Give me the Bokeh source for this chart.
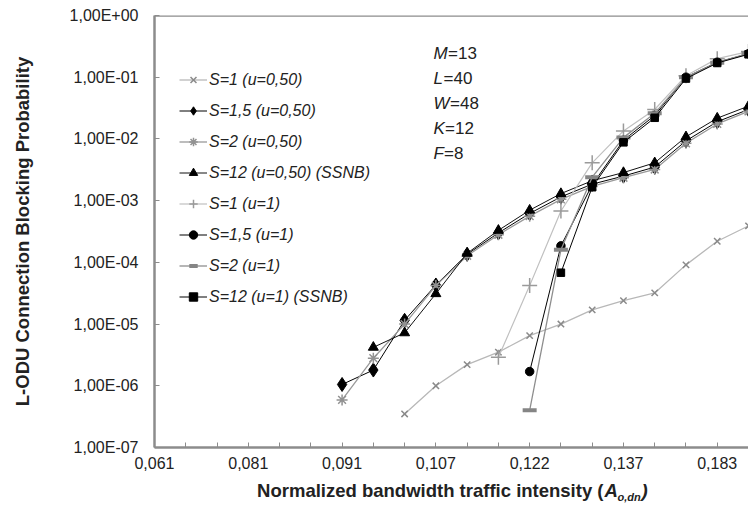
from bokeh.plotting import figure
from bokeh.layouts import column
from bokeh.models import (Range1d, FixedTicker, CustomJSTickFormatter, Legend,
                          LegendItem, Label, Span, ColumnDataSource)
from bokeh.embed import file_html
from bokeh.resources import INLINE

nan = float("nan")

# ---------------- data ----------------
categories = list(range(20))          # Excel category positions
x_tick_labels = ["0,061", "0,081", "0,091", "0,107", "0,122", "0,137", "0,183"]
x_label_step = 3
y_ticks = [1e-7, 1e-6, 1e-5, 1e-4, 1e-3, 1e-2, 1e-1, 1e0]

s1_u050 = [nan, nan, nan, nan, nan, nan, nan, nan,
           3.5e-7, 1.0e-6, 2.2e-6, 3.5e-6, 6.5e-6, 1.0e-5, 1.7e-5, 2.4e-5,
           3.2e-5, 9.1e-5, 2.2e-4, 3.9e-4]
s15_u050 = [nan, nan, nan, nan, nan, nan,
            1.05e-6, 1.8e-6, 1.15e-5, 4.3e-5, 1.35e-4, 3.0e-4, 6.2e-4, 1.15e-3,
            1.85e-3, 2.5e-3, 3.5e-3, 9.3e-3, 1.9e-2, 3.0e-2]
s2_u050 = [nan, nan, nan, nan, nan, nan,
           5.9e-7, 2.8e-6, 1.0e-5, 4.2e-5, 1.28e-4, 2.8e-4, 5.6e-4, 1.05e-3,
           1.7e-3, 2.35e-3, 3.2e-3, 8.5e-3, 1.75e-2, 2.8e-2]
s12_u050 = [nan, nan, nan, nan, nan, nan, nan,
            4.2e-6, 7.2e-6, 3.1e-5, 1.4e-4, 3.3e-4, 7.0e-4, 1.3e-3,
            2.1e-3, 2.85e-3, 4.1e-3, 1.08e-2, 2.17e-2, 3.4e-2]
s1_u1 = [nan, nan, nan, nan, nan, nan, nan, nan, nan, nan, nan,
         2.9e-6, 4.2e-5, 6.8e-4, 4.1e-3, 1.35e-2, 3.0e-2, 1.06e-1, 2.0e-1, 2.6e-1]
s15_u1 = [nan, nan, nan, nan, nan, nan, nan, nan, nan, nan, nan, nan,
          1.7e-6, 1.85e-4, 1.8e-3, 9.5e-3, 2.4e-2, 1.0e-1, 1.75e-1, 2.4e-1]
s2_u1 = [nan, nan, nan, nan, nan, nan, nan, nan, nan, nan, nan, nan,
         4.0e-7, 1.6e-4, 2.4e-3, 1.05e-2, 2.6e-2, 1.0e-1, 1.72e-1, 2.45e-1]
s12_u1 = [nan, nan, nan, nan, nan, nan, nan, nan, nan, nan, nan, nan, nan,
          6.8e-5, 1.65e-3, 8.8e-3, 2.2e-2, 9.5e-2, 1.7e-1, 2.35e-1]

series_names = ["S=1 (u=0,50)", "S=1,5 (u=0,50)", "S=2 (u=0,50)",
                "S=12 (u=0,50) (SSNB)", "S=1 (u=1)", "S=1,5 (u=1)",
                "S=2 (u=1)", "S=12 (u=1) (SSNB)"]
series_values = [s1_u050, s15_u050, s2_u050, s12_u050, s1_u1, s15_u1, s2_u1, s12_u1]

param_names = ["M", "L", "W", "K", "F"]
param_values = ["=13", "=40", "=48", "=12", "=8"]

x_title = "Normalized bandwidth traffic intensity ("
x_title_var = "A"
x_title_sub = "o,dn"
x_title_end = ")"
y_title = "L-ODU Connection Blocking Probability"

# ---------------- styles ----------------
FONT = "Liberation Sans"
AXIS_GRAY = "#8c8c8c"
TXT = "#222222"
styles = [
    dict(line_color="#b8b8b8", line_width=1.3, marker="x", m_color="#8a8a8a", size=9, m_lw=1.5),
    dict(line_color="#000000", line_width=1.0, marker="diamond", m_color="#000000", size=14, m_lw=1),
    dict(line_color="#9a9a9a", line_width=1.3, marker="asterisk", m_color="#929292", size=11, m_lw=1.5),
    dict(line_color="#111111", line_width=1.0, marker="triangle", m_color="#000000", size=10, m_lw=1),
    dict(line_color="#c0c0c0", line_width=1.2, marker="cross", m_color="#9a9a9a", size=15, m_lw=1.5),
    dict(line_color="#000000", line_width=1.0, marker="circle", m_color="#000000", size=8.5, m_lw=1),
    dict(line_color="#8e8e8e", line_width=1.3, marker="dash", m_color="#858585", size=14, m_lw=4),
    dict(line_color="#000000", line_width=1.0, marker="square", m_color="#000000", size=7.5, m_lw=1),
]

p = figure(width=748, height=478, x_range=Range1d(0, 19), y_range=Range1d(1e-7, 1),
           y_axis_type="log", output_backend="svg", toolbar_location=None, title=None,
           min_border_left=154, min_border_right=0, min_border_top=15, min_border_bottom=31)
p.outline_line_color = None
p.xgrid.grid_line_color = None
p.ygrid.grid_line_color = None
p.background_fill_color = "white"
p.border_fill_color = "white"

# axes
for ax in (p.xaxis[0], p.yaxis[0]):
    ax.axis_line_color = AXIS_GRAY
    ax.axis_line_width = 2.5
    ax.major_tick_line_color = AXIS_GRAY
    ax.major_tick_line_width = 1
    ax.major_tick_in = 5
    ax.major_tick_out = 0
    ax.minor_tick_line_color = None
    ax.major_label_text_font = FONT
    ax.major_label_text_font_size = "16px"
    ax.major_label_text_color = TXT

p.xaxis[0].ticker = FixedTicker(ticks=categories, minor_ticks=[])
p.xaxis[0].formatter = CustomJSTickFormatter(
    args=dict(labels=x_tick_labels, step=x_label_step),
    code="""const i = Math.round(tick);
if (i % step === 0 && i / step < labels.length) { return labels[i / step]; }
return "";""")
p.xaxis[0].major_label_standoff = 9

p.yaxis[0].ticker = FixedTicker(ticks=y_ticks, minor_ticks=[])
p.yaxis[0].formatter = CustomJSTickFormatter(code="""const e = Math.round(Math.log10(tick));
const a = Math.abs(e);
return "1,00E" + (e < 0 ? "-" : "+") + (a < 10 ? "0" : "") + a;""")
p.yaxis[0].major_label_standoff = 16
p.yaxis[0].axis_label = y_title
p.yaxis[0].axis_label_text_font = FONT
p.yaxis[0].axis_label_text_font_style = "bold"
p.yaxis[0].axis_label_text_font_size = "18.5px"
p.yaxis[0].axis_label_text_color = TXT
p.yaxis[0].axis_label_standoff = 34

# top border of plot area
p.add_layout(Span(location=1.0, dimension="width", line_color=AXIS_GRAY, line_width=2.5))

# series
items = []
for name, vals, st in zip(series_names, series_values, styles):
    src = ColumnDataSource(dict(x=categories, y=vals))
    ln = p.line("x", "y", source=src, line_color=st["line_color"], line_width=st["line_width"])
    sc = p.scatter("x", "y", source=src, marker=st["marker"], size=st["size"],
                   fill_color=st["m_color"], line_color=st["m_color"],
                   line_width=st["m_lw"])
    items.append(LegendItem(label=name, renderers=[ln, sc]))

legend = Legend(items=items, location=(25, 140), orientation="vertical",
                glyph_width=28, glyph_height=21, label_height=21, spacing=10,
                padding=0, margin=0, label_standoff=2,
                border_line_color=None, background_fill_alpha=0,
                label_text_font=FONT, label_text_font_style="italic",
                label_text_font_size="16px", label_text_color=TXT)
p.add_layout(legend)

# parameter block (M, L, W, K, F) -- placed in data coordinates
PX_PER_CAT = 594.0 / 19.0     # frame width / category span
PX_PER_DEC = 432.0 / 7.0      # frame height / decades
block_left = 279.0 / PX_PER_CAT
letter_w = {"M": 14.5, "L": 10.0, "W": 16.5, "K": 11.5, "F": 10.5}
for i, (nm, vv) in enumerate(zip(param_names, param_values)):
    yy = 10 ** (-(38.3 + 25 * i) / PX_PER_DEC)
    p.add_layout(Label(x=block_left, y=yy, text=nm,
                       text_font=FONT, text_font_style="italic", text_font_size="17px",
                       text_color=TXT, text_baseline="middle", text_align="left"))
    p.add_layout(Label(x=block_left + letter_w[nm] / PX_PER_CAT, y=yy, text=vv,
                       text_font=FONT, text_font_size="17px",
                       text_color=TXT, text_baseline="middle", text_align="left"))

# ---------------- x axis title strip (with subscript) ----------------
# The strip's frame is aligned with the main frame (x from 154 to 748 px),
# so its x range is expressed in page pixels.
t = figure(width=748, height=28, x_range=Range1d(154, 748), y_range=Range1d(0, 28),
           output_backend="svg", toolbar_location=None, min_border=0, title=None,
           x_axis_location=None, y_axis_location=None)
t.outline_line_color = None
t.grid.visible = False
t.background_fill_color = "white"
t.border_fill_color = "white"
t.add_layout(Label(x=603, y=16, text=x_title,
                   text_font=FONT, text_font_style="bold", text_font_size="18.5px",
                   text_color=TXT, text_baseline="middle", text_align="right"))
t.add_layout(Label(x=604, y=16, text=x_title_var,
                   text_font=FONT, text_font_style="bold italic", text_font_size="18.5px",
                   text_color=TXT, text_baseline="middle", text_align="left"))
t.add_layout(Label(x=617, y=10, text=x_title_sub,
                   text_font=FONT, text_font_style="bold italic", text_font_size="11px",
                   text_color=TXT, text_baseline="middle", text_align="left"))
t.add_layout(Label(x=641, y=16, text=x_title_end,
                   text_font=FONT, text_font_style="bold italic", text_font_size="18.5px",
                   text_color=TXT, text_baseline="middle", text_align="left"))

layout = column(p, t, spacing=0)
open("out.html", "w").write(file_html(layout, INLINE))
